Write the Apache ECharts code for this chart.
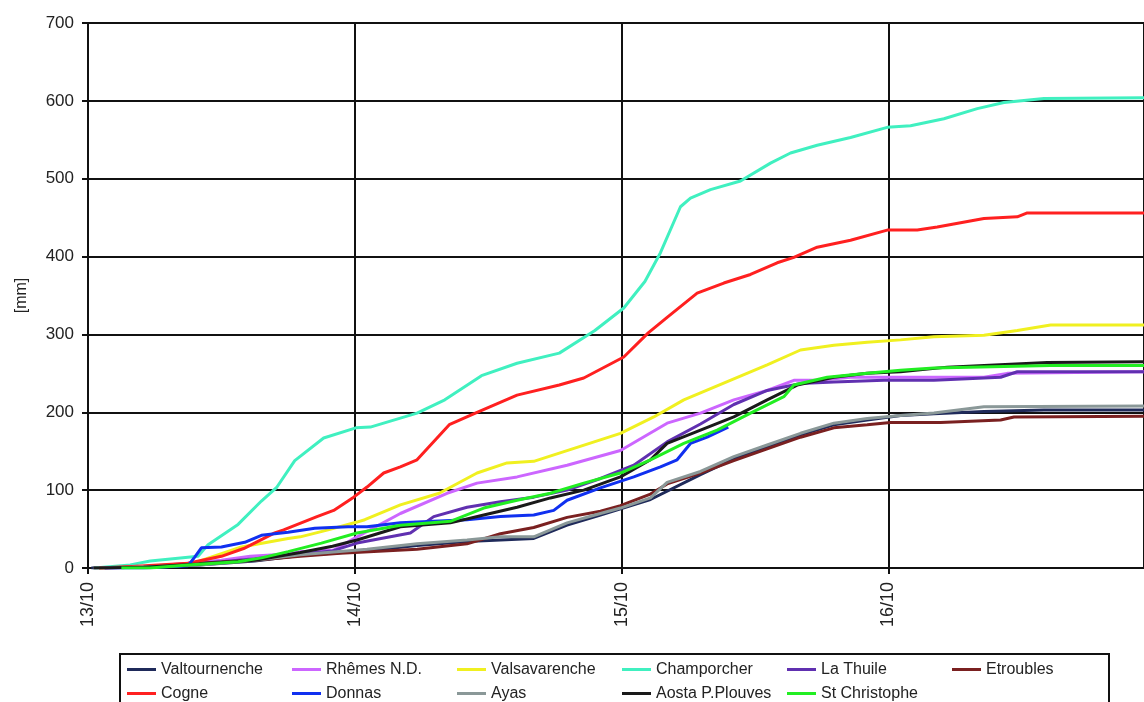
<!DOCTYPE html>
<html>
<head>
<meta charset="utf-8">
<title>Precipitazione cumulata 13-16/10</title>
<script src="https://cdn.jsdelivr.net/npm/echarts@6/dist/echarts.min.js"></script>
<style>
  html, body { margin: 0; padding: 0; background: #fff; }
  #chart { width: 1144px; height: 702px; }
</style>
</head>
<body>
<div id="chart"></div>
<script>
// Cumulative rainfall [mm] per station; x = hours since 13/10 00:00
const stations = ['Valtournenche', 'Rhêmes N.D.', 'Valsavarenche', 'Champorcher', 'La Thuile', 'Etroubles',
                  'Cogne', 'Donnas', 'Ayas', 'Aosta P.Plouves', 'St Christophe'];
const colors = ['#1f2a5a', '#cc66ff', '#f0f020', '#40f0c0', '#6030b0', '#7a2020',
                '#ff2020', '#1030f0', '#8a9898', '#1a1a1a', '#22ee22'];

const valtournenche = [[0.3,0],[5,1],[10,4],[15,9],[19.1,16],[25.1,22],[29.6,29],[34.1,34],[40.1,38],[43.1,55],[46.1,68],[50.6,88],[55.1,120],[58.1,140],[61.1,156],[64.1,171],[67.1,184],[70.1,190],[73.1,196],[76.1,198],[80.6,201],[86,203],[95,203]];
const rhemes = [[1.5,0],[5.6,2],[12,10],[14.6,15],[18,18],[19.1,21],[22.1,23],[24.2,40],[28.1,70],[32.3,96],[35.0,109],[38.6,117],[43.1,132],[47.9,151],[52.1,186],[55.1,199],[58.1,216],[61.1,228],[63.5,241],[65.6,241],[68.6,245],[80.6,245],[82.7,250],[95,252]];
const valsavarenche = [[1,0],[9.0,4],[13.8,27],[18.0,38],[19.1,40],[21.6,49],[24.2,59],[24.9,62],[28.1,81],[31.6,96],[35.0,122],[37.7,135],[40.1,137],[44.0,155],[47.9,173],[50.9,194],[53.6,216],[55.1,225],[58.1,243],[61.1,261],[64.1,280],[67.1,286],[70.1,290],[73.1,293],[76.1,297],[80.6,299],[83.6,305],[86.6,312],[95,312]];
const champorcher = [[0.6,0],[3.8,4],[5.6,9],[9.9,15],[10.8,30],[13.5,56],[15.6,86],[17.0,104],[18.6,138],[21.2,167],[24.1,180],[25.4,181],[29.6,199],[32.1,216],[35.4,247],[38.6,263],[42.4,276],[45.6,305],[48.2,334],[50.1,368],[51.5,405],[53.3,464],[54.2,475],[56.0,486],[58.7,497],[61.4,520],[63.2,533],[65.6,543],[68.6,553],[71.9,566],[74.0,568],[77.0,577],[80.0,590],[82.4,598],[86.0,603],[95,604]];
const laThuile = [[1.5,0],[6,2],[12,8],[15,12],[19.1,18],[22,22],[24.2,32],[29.0,45],[31.1,66],[34.1,78],[37.1,85],[40.1,91],[43.1,100],[46.1,115],[49.1,132],[52.1,162],[55.1,185],[58.1,210],[61.1,228],[64.1,237],[67.1,239],[71.6,241],[76.1,241],[82.1,245],[83.6,252],[95,252]];
const etroubles = [[1,0],[6,2],[10,6],[15,10],[19.1,15],[22.7,19],[29.6,24],[34.1,31],[37.1,44],[40.1,52],[43.1,65],[46.1,73],[47.9,80],[50.6,95],[52.1,108],[55.1,122],[58.1,138],[61.1,153],[64.1,168],[67.1,180],[70.1,184],[72.2,187],[76.7,187],[82.1,190],[83.3,194],[95,195]];
const cogne = [[1.0,0],[4,2],[9,6],[12,15],[14,25],[16.8,45],[17.6,49],[20.6,66],[22.1,74],[23.9,91],[25.1,104],[26.6,122],[28.1,130],[29.6,139],[32.5,184],[35.0,200],[38.6,222],[42.4,235],[44.6,244],[48.2,271],[50.4,302],[52.1,322],[54.8,353],[57.2,366],[59.6,377],[62.0,392],[63.5,399],[65.6,412],[68.6,421],[71.9,434],[74.6,434],[76.4,438],[80.6,449],[83.6,451],[84.5,456],[95,456]];
const donnas = [[1.5,0],[5,0],[9.0,3],[9.6,14],[10.2,26],[12.0,27],[14.1,33],[15.6,42],[18.0,46],[20.4,51],[23.4,53],[25.1,53],[28.1,58],[31.1,60],[34.1,62],[37.1,66],[40.1,68],[41.9,74],[43.1,87],[46.1,103],[49.1,117],[51.5,130],[53.0,139],[54.2,160],[55.7,168],[57.6,181]];
const ayas = [[0.5,0],[4,1],[10,4],[15,10],[19.1,17],[25.1,24],[29.6,31],[34.1,36],[37.1,40],[40.1,40],[43.1,58],[46.1,70],[47.9,77],[50.6,90],[52.1,110],[55.1,124],[58.1,143],[61.1,158],[64.1,173],[67.1,186],[70.1,192],[73.1,196],[76.1,199],[80.6,207],[95,208]];
const aosta = [[0.5,0],[5,1],[10,5],[15,10],[19.1,20],[22,28],[24.2,36],[28.1,53],[32.6,58],[35.6,68],[38.6,78],[41.6,90],[44.6,100],[47.9,117],[50.6,139],[52.1,160],[55.1,177],[58.1,194],[61.1,216],[63.8,235],[67.1,245],[70.1,250],[73.1,252],[77.3,258],[86.3,264],[95,265]];
const stChristophe = [[3,0],[5.6,0],[9.0,4],[13.5,8],[15.6,13],[18.0,21],[21.0,32],[24.2,45],[28.1,55],[32.6,60],[35.6,77],[38.6,87],[41.6,96],[44.6,109],[47.9,122],[50.6,139],[53.6,160],[56.6,177],[59.6,199],[62.6,220],[63.5,235],[66.5,245],[70.1,250],[73.1,254],[76.1,257],[86.6,260],[95,260]];

const seriesData = [valtournenche, rhemes, valsavarenche, champorcher, laThuile, etroubles,
                    cogne, donnas, ayas, aosta, stChristophe];

const yTicks = [0, 100, 200, 300, 400, 500, 600, 700];
const dayLabels = ['13/10', '14/10', '15/10', '16/10'];

const chart = echarts.init(document.getElementById('chart'), null, { renderer: 'canvas' });

const font = 'Liberation Sans, Arial, sans-serif';

chart.setOption({
  animation: false,
  backgroundColor: '#fff',
  grid: { left: 88, top: 23, right: 0, bottom: 134, containLabel: false },
  xAxis: {
    type: 'value',
    min: 0,
    max: 95,
    interval: 24,
    axisLine: { show: true, onZero: false, lineStyle: { color: '#111', width: 2 } },
    axisTick: { show: true, length: 6, lineStyle: { color: '#111', width: 2 } },
    splitLine: { show: true, lineStyle: { color: '#111', width: 2 } },
    axisLabel: {
      rotate: 90,
      margin: 14,
      fontSize: 18,
      fontFamily: font,
      color: '#222',
      showMaxLabel: false,
      formatter: v => (v % 24 === 0 && v / 24 < dayLabels.length) ? dayLabels[v / 24] : ''
    }
  },
  yAxis: {
    type: 'value',
    min: yTicks[0],
    max: yTicks[yTicks.length - 1],
    interval: 100,
    name: '[mm]',
    nameLocation: 'middle',
    nameGap: 58,
    nameRotate: 90,
    nameTextStyle: { fontSize: 16, fontFamily: font, color: '#222' },
    axisLine: { show: true, lineStyle: { color: '#111', width: 2 } },
    axisTick: { show: true, length: 6, lineStyle: { color: '#111', width: 2 } },
    splitLine: { show: true, lineStyle: { color: '#111', width: 2 } },
    axisLabel: { margin: 14, fontSize: 17, fontFamily: font, color: '#222' }
  },
  legend: {
    left: 127,
    top: 658,
    width: 1000,
    padding: 0,
    itemGap: 1,
    itemWidth: 29,
    itemHeight: 3,
    icon: 'rect',
    textStyle: { fontSize: 16, fontFamily: font, color: '#222', width: 130, lineHeight: 23 },
    data: stations
  },
  graphic: [{
    type: 'rect',
    shape: { x: 120, y: 654, width: 989, height: 60 },
    style: { fill: 'none', stroke: '#111', lineWidth: 2 },
    silent: true
  }],
  series: stations.map((name, i) => ({
    name: name,
    type: 'line',
    data: seriesData[i],
    showSymbol: false,
    symbol: 'none',
    lineStyle: { color: colors[i], width: 3 },
    itemStyle: { color: colors[i] },
    z: 3
  }))
});
</script>
</body>
</html>
